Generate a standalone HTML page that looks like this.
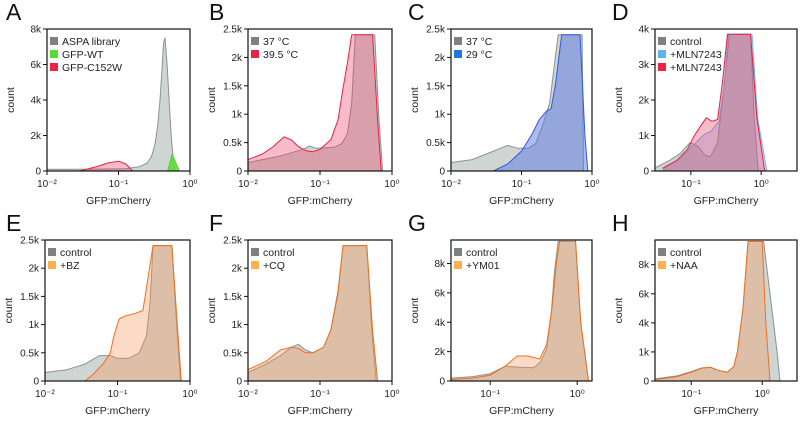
<!DOCTYPE html>
<html><head><meta charset="utf-8">
<style>
html,body{margin:0;padding:0;background:#fff;}
svg{display:block;font-family:"Liberation Sans",Arial,sans-serif;}
.tick{font-size:10px;fill:#222;}
.lbl{font-size:10.5px;fill:#222;}
.letter{font-size:23px;fill:#111;}
</style></head>
<body>
<svg id="fig" width="800" height="422" viewBox="0 0 800 422" xmlns="http://www.w3.org/2000/svg"></svg>
<script>
// ---------- data (log10 GFP:mCherry, counts) ----------
const A_aspa_x = [-2,-1.6,-1.2,-0.9,-0.7,-0.6,-0.54,-0.49,-0.45,-0.42,-0.39,-0.37,-0.35,-0.32,-0.29,-0.26,-0.23,-0.21];
const A_aspa_y = [100,100,110,130,250,450,800,1500,2600,4000,5800,7200,7500,6000,3800,1800,500,0];
const A_wt_x = [-0.31,-0.25,-0.15];
const A_wt_y = [0,950,0];
const A_c152_x = [-1.55,-1.3,-1.15,-1.0,-0.9,-0.8];
const A_c152_y = [0,250,450,550,400,0];

const B_37_x = [-2,-1.8,-1.6,-1.4,-1.2,-1.15,-1.05,-0.9,-0.8,-0.7,-0.62,-0.56,-0.51,-0.24,-0.18,-0.13];
const B_37_y = [150,200,250,320,400,440,400,410,420,480,650,1200,2400,2400,900,0];
const B_395_x = [-2,-1.8,-1.65,-1.5,-1.4,-1.3,-1.2,-1.1,-1.0,-0.85,-0.75,-0.68,-0.62,-0.56,-0.27,-0.2,-0.15];
const B_395_y = [200,300,430,600,550,430,360,340,380,550,900,1450,1900,2400,2400,900,0];

const C_37_x = [-2,-1.7,-1.5,-1.3,-1.2,-1.05,-0.9,-0.8,-0.7,-0.6,-0.52,-0.48,-0.14,-0.12];
const C_37_y = [150,200,300,400,450,400,400,480,800,1200,2000,2400,2400,0];
const C_29_x = [-1.4,-1.2,-1.0,-0.85,-0.75,-0.65,-0.58,-0.52,-0.43,-0.17,-0.1,-0.06];
const C_29_y = [0,120,350,650,900,1050,1100,1500,2400,2400,600,0];

const D_ctrl_x = [-1.5,-1.3,-1.15,-1.01,-0.9,-0.8,-0.72,-0.62,-0.55,-0.45,-0.15,-0.1,-0.04];
const D_ctrl_y = [100,300,500,800,700,450,400,800,2000,3850,3850,1500,0];
const D_blue_x = [-1.4,-1.15,-1.0,-0.88,-0.8,-0.72,-0.6,-0.52,-0.47,-0.13,-0.05,0.08];
const D_blue_y = [50,350,650,900,1050,1100,1400,2500,3850,3850,1500,0];
const D_red_x = [-1.4,-1.2,-1.05,-0.95,-0.85,-0.78,-0.7,-0.62,-0.55,-0.48,-0.15,-0.06,0.05];
const D_red_y = [80,300,600,1000,1300,1500,1400,1450,2500,3850,3850,1500,0];

const E_ctrl_x = [-2,-1.7,-1.45,-1.25,-1.1,-1.0,-0.85,-0.7,-0.6,-0.55,-0.51,-0.25,-0.18,-0.13];
const E_ctrl_y = [150,200,300,450,450,400,400,500,800,1400,2400,2400,900,0];
const E_bz_x = [-1.45,-1.35,-1.2,-1.1,-1.05,-0.98,-0.9,-0.75,-0.65,-0.62,-0.51,-0.25,-0.17,-0.12];
const E_bz_y = [0,100,300,500,800,1100,1150,1200,1250,1500,2400,2400,900,0];

const F_ctrl_x = [-2,-1.75,-1.55,-1.4,-1.3,-1.2,-1.1,-0.95,-0.85,-0.75,-0.68,-0.35,-0.28,-0.22];
const F_ctrl_y = [150,300,450,600,650,550,500,600,900,1600,2400,2400,900,0];
const F_cq_x = [-2,-1.75,-1.55,-1.4,-1.3,-1.2,-1.1,-0.95,-0.85,-0.75,-0.68,-0.35,-0.27,-0.2];
const F_cq_y = [200,350,550,600,580,500,500,600,900,1550,2400,2400,900,0];

const G_ctrl_x = [-1.45,-1.2,-1.0,-0.83,-0.7,-0.5,-0.42,-0.35,-0.3,-0.26,-0.22,-0.02,0.04,0.13];
const G_ctrl_y = [200,300,500,1000,950,900,1300,2200,4500,7500,9500,9500,4000,0];
const G_ym_x = [-1.45,-1.2,-1.0,-0.83,-0.69,-0.57,-0.43,-0.35,-0.29,-0.24,-0.2,-0.02,0.04,0.13];
const G_ym_y = [100,200,400,1000,1700,1700,1500,2500,5000,8000,9600,9600,4000,0];

const H_ctrl_x = [-1.5,-1.2,-1.0,-0.85,-0.73,-0.6,-0.49,-0.4,-0.35,-0.27,-0.2,0.02,0.11,0.21,0.25];
const H_ctrl_y = [150,350,650,900,950,700,600,1000,2000,5000,9600,9600,6000,2000,0];
const H_naa_x = [-1.5,-1.2,-1.0,-0.85,-0.73,-0.6,-0.49,-0.4,-0.35,-0.27,-0.2,0.0,0.05,0.11];
const H_naa_y = [100,300,600,880,950,700,600,1000,2000,5000,9600,9600,4000,0];

const ticksA_y = ["0","2k","4k","6k","8k"];
const ticksB_y = ["0","0.5k","1k","1.5k","2k","2.5k"];
const ticksD_y = ["0","1k","2k","3k","4k"];
const ticksG_y = ["0","2k","4k","6k","8k"];
const ticksH_y = ["0","1k","4k","6k","8k"];
const ticksWide_x = ["10\u207B\u00B2","10\u207B\u00B9","10\u2070"];
const ticksNarrow_x = ["10\u207B\u00B9","10\u2070"];

// ---------- drawing ----------
const NS = "http://www.w3.org/2000/svg";
const svg = document.getElementById('fig');
function mk(tag, attrs, parent){
  const e = document.createElementNS(NS, tag);
  for (const k in attrs) e.setAttribute(k, attrs[k]);
  (parent||svg).appendChild(e);
  return e;
}
const C = {
  gray:{line:"#8d9290",fill:"rgba(175,185,180,0.6)",sw:"#7c8280"},
  green:{line:"#4fd12a",fill:"rgba(90,220,50,0.85)",sw:"#55dd33"},
  red:{line:"#ec2040",fill:"rgba(235,60,100,0.35)",sw:"#ee2244"},
  blue:{line:"#2a5ae6",fill:"rgba(90,120,225,0.5)",sw:"#1f77e6"},
  lblue:{line:"#6ab8ee",fill:"rgba(110,160,230,0.3)",sw:"#5ab4ee"},
  orange:{line:"#f07020",fill:"rgba(245,150,90,0.35)",sw:"#f8b050"}
};
function panel(p){
  const g = mk('g',{});
  
  
  const L=p.l,R=p.r,T=p.t,B=p.b;
  const sx = v => L + (v - p.xmin)/(p.xmax - p.xmin)*(R-L);
  const sy = v => B - v/p.ymax*(B-T);
  const clipId='clip'+p.id;
  const cp = mk('clipPath',{id:clipId},g);
  mk('rect',{x:L,y:T,width:R-L,height:B-T},cp);
  const sg = mk('g',{'clip-path':'url(#'+clipId+')'},g);
  p.series.forEach(s=>{
    const col=C[s.c];
    let d='M'+sx(s.x[0]).toFixed(1)+','+sy(0).toFixed(1);
    for(let i=0;i<s.x.length;i++) d+=' L'+sx(s.x[i]).toFixed(1)+','+sy(s.y[i]).toFixed(1);
    d+=' L'+sx(s.x[s.x.length-1]).toFixed(1)+','+sy(0).toFixed(1)+' Z';
    const f=mk('path',{d:d,fill:col.fill,stroke:'none'},sg);
    
    
    let d2='';
    for(let i=0;i<s.x.length;i++) d2+=(i?' L':'M')+sx(s.x[i]).toFixed(1)+','+sy(s.y[i]).toFixed(1);
    const ln=mk('path',{d:d2,fill:'none',stroke:col.line,'stroke-width':1,'stroke-linejoin':'round'},sg);
    
    
  });
  const fr=mk('rect',{x:L,y:T,width:R-L,height:B-T,fill:'none',stroke:'#111','stroke-width':1.2},g);
  
  
  p.yt.forEach((lab,i)=>{
    const v=p.yv[i], y=sy(v);
    mk('line',{x1:L-4,x2:L,y1:y,y2:y,stroke:'#111','stroke-width':1},g);
    const t=mk('text',{x:L-6,y:y+3.5,'text-anchor':'end',class:'tick'},g);
    t.textContent=lab;
    
    
  });
  p.xt.forEach((lab,i)=>{
    const x=sx(p.xv[i]);
    mk('line',{x1:x,x2:x,y1:B,y2:B+4,stroke:'#111','stroke-width':1},g);
    const t=mk('text',{x:x,y:B+16,'text-anchor':'middle',class:'tick'},g);
    t.textContent=lab;
    
    
  });
  const xt=mk('text',{x:(L+R)/2,y:B+33,'text-anchor':'middle',class:'lbl'},g);
  xt.textContent='GFP:mCherry';
  
  
  const yt=mk('text',{x:0,y:0,'text-anchor':'middle',class:'lbl',transform:'translate('+(L-33)+','+((T+B)/2)+') rotate(-90)'},g);
  yt.textContent='count';
  
  
  const le=mk('text',{x:p.lx,y:T-9,class:'letter'},g);
  le.textContent=p.id;
  
  
  p.legend.forEach((it,i)=>{
    const y=T+12+i*13;
    const r=mk('rect',{x:L+3,y:y-4,width:8,height:8,fill:C[it.c].sw},g);
    
    
    const t=mk('text',{x:L+15,y:y+4,class:'lbl'},g);
    t.textContent=it.t;
    
    
  });
}
const top1={t:29,b:171}, top2={t:240,b:381};
panel({id:'A',l:47,r:190,...top1,lx:6,xmin:-2,xmax:0,ymax:8000,yv:[0,2000,4000,6000,8000],yt:ticksA_y,xv:[-2,-1,0],xt:ticksWide_x,
  series:[{name:'aspa',c:'gray',x:A_aspa_x,y:A_aspa_y},{name:'gfp-wt',c:'green',x:A_wt_x,y:A_wt_y},{name:'gfp-c152w',c:'red',x:A_c152_x,y:A_c152_y}],
  legend:[{c:'gray',t:'ASPA library'},{c:'green',t:'GFP-WT'},{c:'red',t:'GFP-C152W'}]});
panel({id:'B',l:248,r:392,...top1,lx:209,xmin:-2,xmax:0,ymax:2500,yv:[0,500,1000,1500,2000,2500],yt:ticksB_y,xv:[-2,-1,0],xt:ticksWide_x,
  series:[{name:'37c',c:'gray',x:B_37_x,y:B_37_y},{name:'39-5c',c:'red',x:B_395_x,y:B_395_y}],
  legend:[{c:'gray',t:'37 °C'},{c:'red',t:'39.5 °C'}]});
panel({id:'C',l:451,r:592,...top1,lx:408,xmin:-2,xmax:0,ymax:2500,yv:[0,500,1000,1500,2000,2500],yt:ticksB_y,xv:[-2,-1,0],xt:ticksWide_x,
  series:[{name:'37c',c:'gray',x:C_37_x,y:C_37_y},{name:'29c',c:'blue',x:C_29_x,y:C_29_y}],
  legend:[{c:'gray',t:'37 °C'},{c:'blue',t:'29 °C'}]});
panel({id:'D',l:655,r:797,...top1,lx:612,xmin:-1.51,xmax:0.51,ymax:4000,yv:[0,1000,2000,3000,4000],yt:ticksD_y,xv:[-1,0],xt:ticksNarrow_x,
  series:[{name:'control',c:'gray',x:D_ctrl_x,y:D_ctrl_y},{name:'mln7243-a',c:'lblue',x:D_blue_x,y:D_blue_y},{name:'mln7243-b',c:'red',x:D_red_x,y:D_red_y}],
  legend:[{c:'gray',t:'control'},{c:'lblue',t:'+MLN7243'},{c:'red',t:'+MLN7243'}]});
panel({id:'E',l:45,r:190,...top2,lx:6,xmin:-2,xmax:0,ymax:2500,yv:[0,500,1000,1500,2000,2500],yt:ticksB_y,xv:[-2,-1,0],xt:ticksWide_x,
  series:[{name:'control',c:'gray',x:E_ctrl_x,y:E_ctrl_y},{name:'bz',c:'orange',x:E_bz_x,y:E_bz_y}],
  legend:[{c:'gray',t:'control'},{c:'orange',t:'+BZ'}]});
panel({id:'F',l:248,r:392,...top2,lx:209,xmin:-2,xmax:0,ymax:2500,yv:[0,500,1000,1500,2000,2500],yt:ticksB_y,xv:[-2,-1,0],xt:ticksWide_x,
  series:[{name:'control',c:'gray',x:F_ctrl_x,y:F_ctrl_y},{name:'cq',c:'orange',x:F_cq_x,y:F_cq_y}],
  legend:[{c:'gray',t:'control'},{c:'orange',t:'+CQ'}]});
panel({id:'G',l:451,r:592,...top2,lx:408,xmin:-1.45,xmax:0.17,ymax:9600,yv:[0,2000,4000,6000,8000],yt:ticksG_y,xv:[-1,0],xt:ticksNarrow_x,
  series:[{name:'control',c:'gray',x:G_ctrl_x,y:G_ctrl_y},{name:'ym01',c:'orange',x:G_ym_x,y:G_ym_y}],
  legend:[{c:'gray',t:'control'},{c:'orange',t:'+YM01'}]});
panel({id:'H',l:655,r:797,...top2,lx:612,xmin:-1.51,xmax:0.49,ymax:9700,yv:[0,2000,4000,6000,8000],yt:ticksH_y,xv:[-1,0],xt:ticksNarrow_x,
  series:[{name:'control',c:'gray',x:H_ctrl_x,y:H_ctrl_y},{name:'naa',c:'orange',x:H_naa_x,y:H_naa_y}],
  legend:[{c:'gray',t:'control'},{c:'orange',t:'+NAA'}]});
</script>
</body></html>
